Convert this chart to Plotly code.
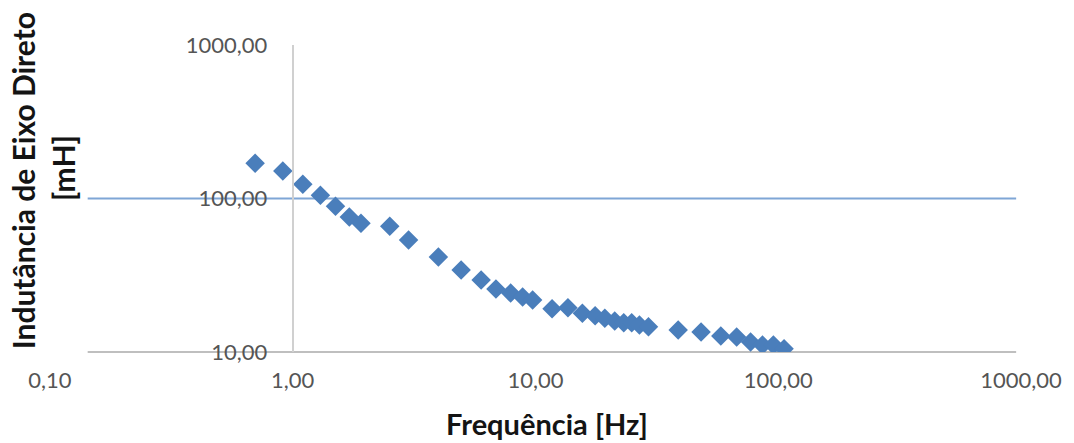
import plotly.graph_objects as go

# Data (frequency in Hz, inductance in mH)
freq_hz = [0.70, 0.91, 1.10, 1.30, 1.50, 1.71, 1.91, 2.51, 3.0, 3.98, 4.94, 5.97, 6.87,
           7.9, 8.85, 9.73, 11.7, 13.6, 15.6, 17.6, 19.3, 21.2, 23.1, 24.9, 26.8, 29.2,
           38.7, 48.1, 58.0, 67.4, 76.9, 86.1, 95.5, 105.7]
induct_mh = [170, 151, 124, 105, 89, 75.7, 69, 66, 53.7, 41.6, 34.2, 29.4, 25.7,
             24.2, 22.8, 21.8, 19.1, 19.4, 17.9, 17.2, 16.6, 15.9, 15.5, 15.5, 15.0, 14.6,
             13.9, 13.5, 12.7, 12.5, 11.6, 11.1, 11.1, 10.5]

x_tickvals = [0.1, 1, 10, 100, 1000]
x_ticktext = ["0,10", "1,00", "10,00", "100,00", "1000,00"]
y_tickvals = [10, 100, 1000]
y_ticktext = ["10,00", "100,00", "1000,00"]

x_title = "Frequência [Hz]"
y_title_1 = "Indutância de Eixo Direto"
y_title_2 = "[mH]"

FONT = "Lato"
TICK_COLOR = "#555555"
TITLE_COLOR = "#141414"

fig = go.Figure()
fig.add_trace(go.Scatter(
    x=freq_hz, y=induct_mh, mode="markers",
    marker=dict(symbol="diamond", size=15, color="#4a7ebb", line=dict(width=0)),
    showlegend=False,
))

fig.update_layout(
    width=1074, height=443,
    margin=dict(l=50, r=44, t=45, b=91),
    paper_bgcolor="white", plot_bgcolor="white",
    font=dict(family=FONT, color=TICK_COLOR, size=22),
    xaxis=dict(
        type="log", range=[-1, 3],
        tickvals=x_tickvals, ticktext=x_ticktext,
        showgrid=False, zeroline=False, showline=False, ticks="",
        ticklabelstandoff=13,
        tickfont=dict(family=FONT, size=22, color=TICK_COLOR),
    ),
    yaxis=dict(
        type="log", range=[1, 3],
        tickvals=y_tickvals, ticktext=y_ticktext,
        showgrid=False, zeroline=False,
        showline=True, linecolor="#d0d0d0", linewidth=2,
        anchor="free", position=0.25, ticks="",
        ticklabelstandoff=20,
        tickfont=dict(family=FONT, size=22, color=TICK_COLOR),
    ),
    shapes=[
        dict(type="line", xref="paper", yref="y domain", x0=0.0388, x1=0.995, y0=0, y1=0,
             line=dict(color="#bfbfbf", width=2), layer="below"),
        dict(type="line", xref="paper", yref="y domain", x0=0.0388, x1=0.995, y0=0.5, y1=0.5,
             line=dict(color="#7fa6d6", width=2), layer="below"),
    ],
    annotations=[
        dict(text=f"<b>{x_title}</b>", xref="paper", yref="paper", x=0.512, y=-0.232,
             showarrow=False, font=dict(family=FONT, size=29, color=TITLE_COLOR),
             xanchor="center", yanchor="middle"),
        dict(text=f"<b>{y_title_1}</b>", xref="paper", yref="paper", x=-0.0276, y=0.557,
             textangle=-90, showarrow=False, font=dict(family=FONT, size=30, color=TITLE_COLOR),
             xanchor="center", yanchor="middle"),
        dict(text=f"<b>{y_title_2}</b>", xref="paper", yref="paper", x=0.0133, y=0.599,
             textangle=-90, showarrow=False, font=dict(family=FONT, size=30, color=TITLE_COLOR),
             xanchor="center", yanchor="middle"),
    ],
)

fig.write_html("out.html")
